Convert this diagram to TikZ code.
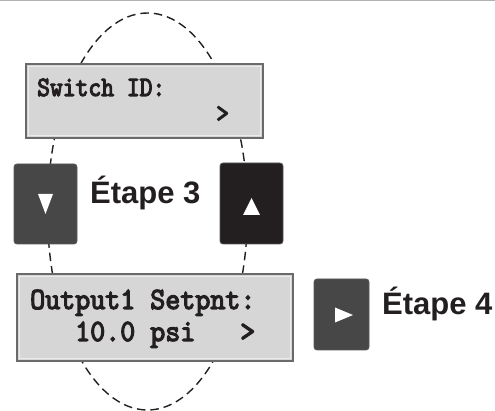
\documentclass[tikz,border=0pt]{standalone}
\usepackage{fontspec}
\setmainfont{Liberation Sans}
\newfontfamily\lcdfont{lmmono10-regular}[Extension=.otf, FakeBold=4]
\definecolor{lcdfill}{HTML}{D6D6D6}
\definecolor{lcdedge}{HTML}{6A6A6A}
\definecolor{btngray}{HTML}{474747}
\definecolor{btnblack}{HTML}{231F20}
\definecolor{textblack}{HTML}{231F20}
\tikzset{
  lcdbox/.style={draw=lcdedge, line width=1.2pt, fill=lcdfill, inner sep=0pt},
  lcdinner/.style={draw=white!92!black, line width=1pt},
  btn/.style={rounded corners=3pt, draw=gray!70!black, line width=0.8pt, inner sep=0pt},
  tri/.style={fill=white, draw=none},
  steplabel/.style={anchor=base west, inner sep=0pt, text=textblack, font=\fontsize{31}{35}\selectfont\bfseries},
  lcdtext/.style={anchor=base west, inner sep=0pt, text=textblack},
  lcdsmall/.style={lcdtext, font=\lcdfont\fontsize{24.4}{27}\selectfont},
  lcdlarge/.style={lcdtext, font=\lcdfont\fontsize{28.6}{31}\selectfont},
  loop/.style={dash pattern=on 8.5pt off 5pt, line width=1.4pt, draw=textblack}
}
\begin{document}
\begin{tikzpicture}[x=1pt,y=-1pt]
\useasboundingbox (0,0) rectangle (495,411);
% top rule
\draw[gray!60, line width=1.5pt] (0,0.75) -- (495,0.75);
% dashed loop (behind everything)
\draw[loop] (147.5,211.5) ellipse [x radius=100, y radius=198.5];
% LCD 1
\path[lcdbox] (26,64) rectangle (263,138);
\draw[lcdinner] (28.5,66.5) rectangle (260.5,135.5);
\node (t1) [lcdsmall] at (37,96) {\scalebox{1}[1.15]{Switch ID:}};
\node (g1) [lcdsmall] at (216,122) {\scalebox{1}[1.15]{>}};
% LCD 2
\path[lcdbox] (17,274) rectangle (293,361);
\draw[lcdinner] (19.5,276.5) rectangle (290.5,358.5);
\node (t2) [lcdlarge] at (30,309) {\scalebox{1}[1.08]{Output1 Setpnt:}};
\node (t3) [lcdlarge] at (75,341) {\scalebox{1}[1.08]{10.0 psi}};
\node (g2) [lcdlarge] at (240,341) {\scalebox{1}[1.08]{>}};
% buttons
\path[btn, fill=btngray] (14,164) rectangle (77,244);
\fill[tri] (38,194) -- (53,194) -- (45.5,214) -- cycle;
\path[btn, fill=btnblack] (220,163) rectangle (283,244);
\fill[tri] (243,215) -- (260,215) -- (251.5,198) -- cycle;
\path[btn, fill=btngray] (314,279) rectangle (369,350);
\fill[tri] (335,307.5) -- (335,322.5) -- (353,315) -- cycle;
% labels
\node (s3) [steplabel] at (90,204) {Étape 3};
\node (s4) [steplabel] at (382,315) {Étape 4};
\end{tikzpicture}
\end{document}
